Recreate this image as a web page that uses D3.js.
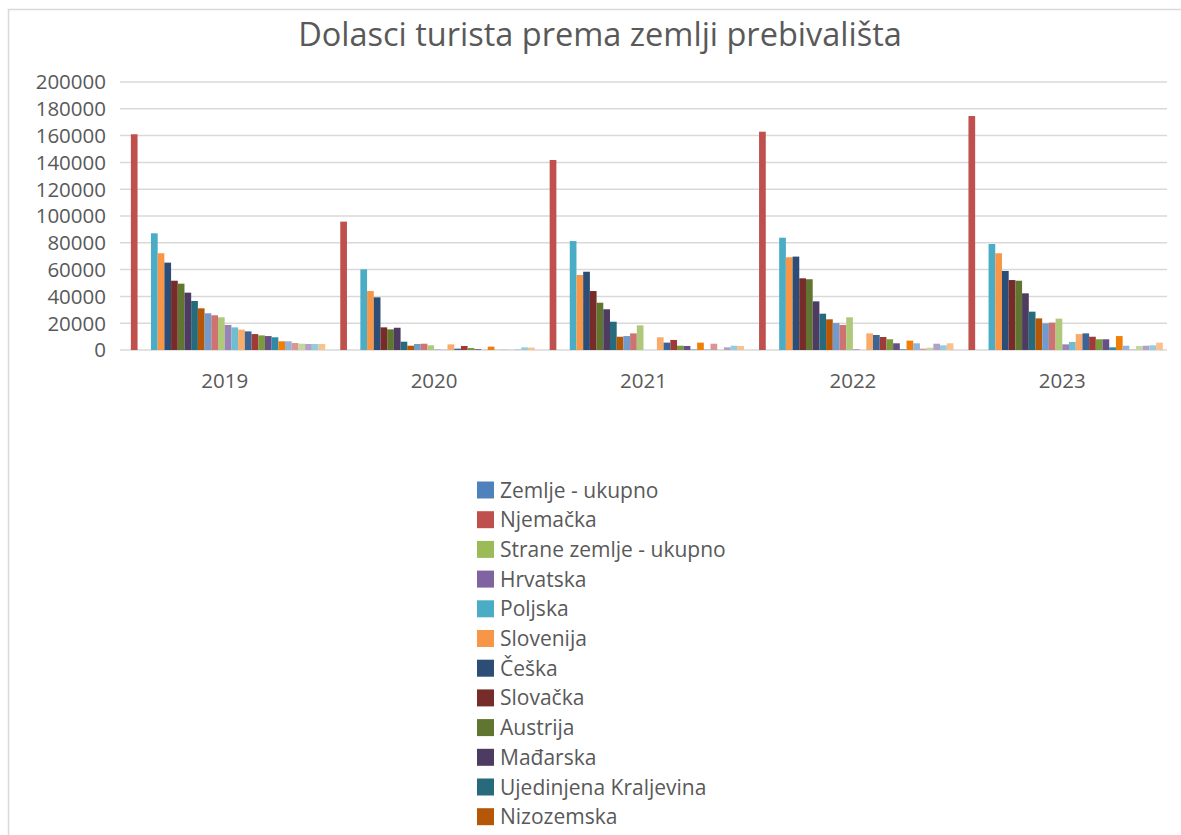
<!DOCTYPE html>
<html>
<head>
  <meta charset="utf-8">
  <script src="https://d3js.org/d3.v7.min.js"></script>
  <style>
    body { margin: 0; background: #fff; overflow: hidden; }
    text { font-family: "Open Sans", sans-serif; fill: #595959; }
  </style>
</head>
<body>
<div id="chart"></div>
<script>
  // categories
  var years = ["2019", "2020", "2021", "2022", "2023"];

  // series names (first 12 are the ones seen in the legend)
  var countries = [
    "Zemlje - ukupno", "Njemačka", "Strane zemlje - ukupno", "Hrvatska",
    "Poljska", "Slovenija", "Češka", "Slovačka", "Austrija", "Mađarska",
    "Ujedinjena Kraljevina", "Nizozemska", "Italija", "Francuska", "Švedska",
    "Belgija", "Švicarska", "Danska", "Norveška", "Bosna i Hercegovina",
    "Srbija", "Ukrajina", "Rumunjska", "Finska", "SAD", "Španjolska",
    "Irska", "Litva", "Izrael", "Ostale zemlje"
  ];

  // values per country, one per year (null = no bar)
  var values = [
    [null, null, null, null, null],
    [161000, 95800, 141800, 162900, 174600],
    [null, null, null, null, null],
    [null, null, null, null, null],
    [87100, 60200, 81300, 83800, 79100],
    [72200, 44000, 56000, 69200, 72200],
    [65200, 39300, 58400, 69700, 59000],
    [51700, 16900, 44000, 53500, 52200],
    [49500, 15400, 35300, 52800, 51700],
    [42800, 16600, 30400, 36300, 42300],
    [36600, 6200, 21100, 27100, 28600],
    [31100, 3200, 9900, 22900, 23600],
    [27400, 4500, 10400, 20100, 19900],
    [25900, 4700, 12400, 18700, 20400],
    [24400, 3500, 18400, 24400, 23400],
    [18700, 300, null, 500, 4200],
    [16900, 200, null, null, 6000],
    [15200, 4200, 9500, 12400, 11900],
    [13900, 1000, 5500, 11200, 12400],
    [11900, 3000, 7500, 9700, 9900],
    [10900, 1500, 3200, 8000, 8000],
    [10400, 600, 3000, 5000, 8000],
    [9500, 100, 300, 500, 2000],
    [6500, 2500, 5500, 7000, 10400],
    [6500, 100, 500, 5000, 3200],
    [5200, 200, 4700, 1000, 300],
    [4700, 100, 200, 1700, 3000],
    [4500, 300, 2000, 4700, 3200],
    [4500, 2000, 3200, 3500, 3500],
    [4500, 1800, 3000, 5000, 5500]
  ];

  var yTicks = [0, 20000, 40000, 60000, 80000, 100000, 120000, 140000, 160000, 180000, 200000];

  var colors = [
    "#4F81BD", "#C0504D", "#9BBB59", "#8064A2", "#4BACC6", "#F79646",
    "#2C4D75", "#772C2A", "#5F7530", "#4D3B62", "#276A7C", "#B65708",
    "#729ACA", "#CD7371", "#AFC97A", "#9983B5", "#6FBDD1", "#F9AB6B",
    "#3A6595", "#9E3B38", "#7B9A3E", "#664F84", "#2E8BA5", "#F07F09",
    "#95B3D7", "#D99694", "#C3D69B", "#B2A1C7", "#93CDDD", "#FAC090"
  ];

  var W = 1181, H = 835;
  var plot = { left: 120, right: 1167, top: 82, bottom: 350 };

  var svg = d3.select("#chart").append("svg")
    .attr("width", W)
    .attr("height", H);

  // chart frame (runs off the right and bottom of the window)
  svg.append("rect")
    .attr("x", 8.5).attr("y", 9.5)
    .attr("width", W + 10).attr("height", H + 10)
    .attr("fill", "#fff")
    .attr("stroke", "#D9D9D9")
    .attr("stroke-width", 1.5);

  var x0 = d3.scaleBand()
    .domain(years)
    .range([plot.left, plot.right])
    .paddingInner(0).paddingOuter(0);

  var x1 = d3.scaleBand()
    .domain(countries)
    .range([0, x0.bandwidth()])
    .paddingInner(0).paddingOuter(0.62);

  var y = d3.scaleLinear()
    .domain([0, 200000])
    .range([plot.bottom, plot.top]);

  // grid lines
  svg.append("g")
    .selectAll("line")
    .data(yTicks)
    .join("line")
    .attr("x1", plot.left)
    .attr("x2", plot.right)
    .attr("y1", d => y(d))
    .attr("y2", d => y(d))
    .attr("stroke", "#D9D9D9")
    .attr("stroke-width", 1.5);

  // y labels
  svg.append("g")
    .selectAll("text")
    .data(yTicks)
    .join("text")
    .attr("x", 106)
    .attr("y", d => y(d))
    .attr("dy", "0.36em")
    .attr("text-anchor", "end")
    .style("font-size", "20.5px")
    .text(d => d);

  // x labels
  svg.append("g")
    .selectAll("text")
    .data(years)
    .join("text")
    .attr("x", d => x0(d) + x0.bandwidth() / 2)
    .attr("y", 388)
    .attr("text-anchor", "middle")
    .style("font-size", "20.5px")
    .text(d => d);

  // bars
  var groups = svg.append("g")
    .selectAll("g")
    .data(countries)
    .join("g")
    .attr("fill", (d, i) => colors[i]);

  groups.selectAll("rect")
    .data((c, i) => values[i].map((v, j) => ({ year: years[j], country: c, v: v })).filter(d => d.v != null))
    .join("rect")
    .attr("x", d => x0(d.year) + x1(d.country))
    .attr("width", x1.bandwidth())
    .attr("y", d => y(d.v))
    .attr("height", d => y(0) - y(d.v));

  // title
  svg.append("text")
    .attr("x", 600)
    .attr("y", 46)
    .attr("text-anchor", "middle")
    .style("font-size", "32.5px")
    .text("Dolasci turista prema zemlji prebivališta");

  // legend: rows continue below the window like in the original,
  // only the rows that fit are drawn
  var rowY = (d, i) => 490 + i * 29.7;
  var legend = svg.append("g")
    .selectAll("g")
    .data(countries.filter((d, i) => rowY(d, i) + 12 < H))
    .join("g")
    .attr("transform", (d, i) => "translate(477," + rowY(d, i) + ")");

  legend.append("rect")
    .attr("x", 0).attr("y", -8.5)
    .attr("width", 17).attr("height", 17)
    .attr("fill", (d, i) => colors[i]);

  legend.append("text")
    .attr("x", 23)
    .attr("y", 0)
    .attr("dy", "0.36em")
    .style("font-size", "21px")
    .text(d => d);
</script>
</body>
</html>
